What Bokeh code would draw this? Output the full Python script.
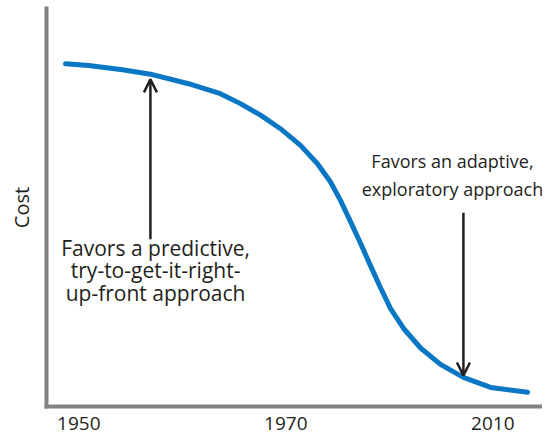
from bokeh.plotting import figure
from bokeh.models import Range1d, FixedTicker, Arrow, OpenHead, ColumnDataSource
from bokeh.core.properties import value
from bokeh.embed import file_html
from bokeh.resources import INLINE

# ---- data (x in era-position units: 0 = 1950, 1 = 1970, 2 = 2010) ----
tick_positions = [0, 1, 2]
tick_labels = ["1950", "1970", "2010"]

curve_x = [-0.064, 0.047, 0.211, 0.346, 0.530, 0.684, 0.781, 0.878, 0.974,
           1.071, 1.153, 1.216, 1.264, 1.312, 1.361, 1.409, 1.457, 1.506,
           1.569, 1.651, 1.747, 1.858, 1.989, 2.168]
curve_y = [86.1, 85.7, 84.6, 83.5, 81.1, 78.6, 76.1, 73.2, 69.8,
           65.6, 61.0, 56.4, 51.8, 46.5, 41.0, 35.4, 29.9, 24.6,
           19.6, 14.7, 10.6, 7.3, 4.8, 3.6]

left_note_lines = ["Favors a predictive,", "try-to-get-it-right-", "up-front approach"]
left_note_x = [0.371, 0.371, 0.371]
left_note_y = [39.7, 34.2, 28.4]
left_arrow = dict(x=0.346, y_start=42.0, y_end=82.2)

right_note_lines = ["Favors an adaptive,", "exploratory approach"]
right_note_x = [1.805, 1.805]
right_note_y = [61.8, 54.6]
right_arrow = dict(x=1.858, y_start=48.7, y_end=7.8)

FONT = "Open Sans"
INK = "#231f20"
AXIS = "#808285"
BLUE = "#0a77c4"

p = figure(width=542, height=437, output_backend="svg", toolbar_location=None,
           x_range=Range1d(-0.156, 2.240), y_range=Range1d(0, 100),
           min_border_left=46, min_border_right=0, min_border_top=8,
           min_border_bottom=31)
p.outline_line_color = None
p.grid.visible = False
p.background_fill_color = "white"
p.border_fill_color = "white"

# axes
xa = p.xaxis[0]
xa.ticker = FixedTicker(ticks=tick_positions)
xa.major_label_overrides = {pos: lab for pos, lab in zip(tick_positions, tick_labels)}
xa.major_tick_line_color = None
xa.minor_tick_line_color = None
xa.major_tick_out = 0
xa.major_tick_in = 0
xa.major_label_text_font = FONT
xa.major_label_text_font_size = "19px"
xa.major_label_text_color = INK
xa.major_label_standoff = 10
xa.axis_line_color = AXIS
xa.axis_line_width = 4
xa.axis_line_cap = "square"

ya = p.yaxis[0]
ya.ticker = FixedTicker(ticks=[])
ya.major_tick_line_color = None
ya.minor_tick_line_color = None
ya.major_tick_out = 0
ya.major_tick_in = 0
ya.axis_line_color = AXIS
ya.axis_line_width = 4
ya.axis_line_cap = "square"
ya.axis_label = "Cost"
ya.axis_label_text_font = FONT
ya.axis_label_text_font_size = "20px"
ya.axis_label_text_font_style = "normal"
ya.axis_label_text_color = INK
ya.axis_label_standoff = 12

# curve
p.line(curve_x, curve_y, line_color=BLUE, line_width=5, line_cap="round",
       line_join="round")

# arrows
for a in (left_arrow, right_arrow):
    p.add_layout(Arrow(end=OpenHead(size=13, line_width=2.5, line_color=INK),
                       x_start=a["x"], y_start=a["y_start"],
                       x_end=a["x"], y_end=a["y_end"],
                       line_color=INK, line_width=2.5))

# annotation text
for xs, ys, lines, size in ((left_note_x, left_note_y, left_note_lines, "21px"),
                            (right_note_x, right_note_y, right_note_lines, "18px")):
    src = ColumnDataSource(dict(x=xs, y=ys, t=lines))
    p.text(x="x", y="y", text="t", source=src, text_font=value(FONT),
           text_font_size=size, text_color=INK, text_align="center",
           text_baseline="middle")

open("out.html", "w").write(file_html(p, INLINE))
